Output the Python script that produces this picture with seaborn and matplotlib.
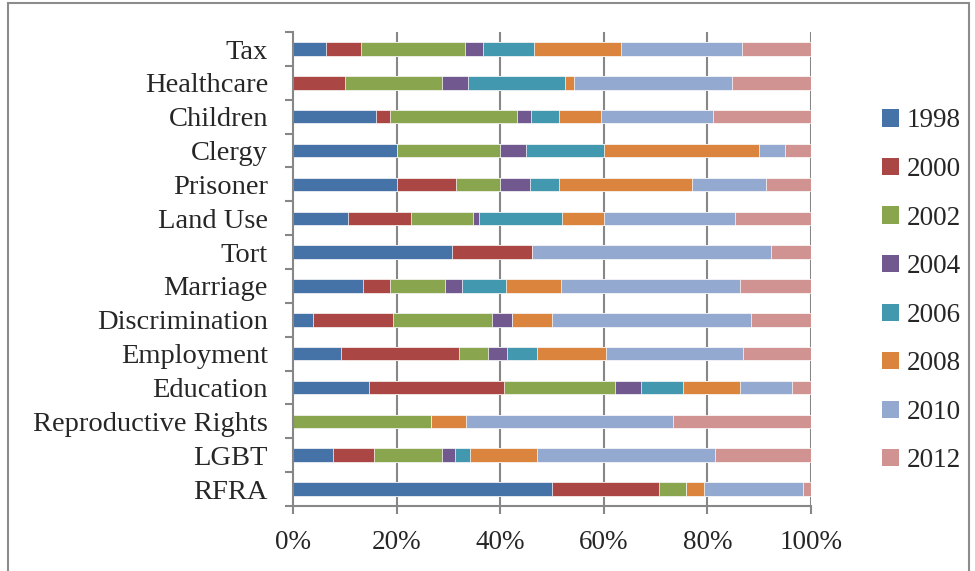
import pandas as pd
import seaborn as sns
import matplotlib.pyplot as plt
from matplotlib.patches import Rectangle, Patch

# categories, top to bottom
categories = ["Tax", "Healthcare", "Children", "Clergy", "Prisoner", "Land Use", "Tort",
              "Marriage", "Discrimination", "Employment", "Education",
              "Reproductive Rights", "LGBT", "RFRA"]
years = ["1998", "2000", "2002", "2004", "2006", "2008", "2010", "2012"]

# share of cases per year (%)
y1998 = [6.4, 0, 16.1, 20.0, 20.0, 10.7, 30.8, 13.6, 3.8, 9.3, 14.7, 0, 7.8, 50.0]
y2000 = [6.8, 10.1, 2.6, 0, 11.4, 12.0, 15.4, 5.2, 15.4, 22.7, 26.1, 0, 7.9, 20.6]
y2002 = [20.0, 18.6, 24.5, 20.0, 8.6, 12.0, 0, 10.5, 19.2, 5.7, 21.4, 26.7, 13.1, 5.3]
y2004 = [3.4, 5.1, 2.7, 5.0, 5.7, 1.3, 0, 3.3, 3.8, 3.7, 4.9, 0, 2.5, 0]
y2006 = [10.0, 18.7, 5.4, 15.0, 5.7, 16.0, 0, 8.6, 0, 5.7, 8.2, 0, 2.8, 0]
y2008 = [16.7, 1.7, 8.1, 30.0, 25.7, 8.0, 0, 10.5, 7.7, 13.3, 11.0, 6.7, 13.1, 3.4]
y2010 = [23.4, 30.5, 21.7, 5.0, 14.3, 25.3, 46.2, 34.6, 38.5, 26.5, 10.0, 40.0, 34.3, 19.1]
y2012 = [13.3, 15.3, 18.9, 5.0, 8.6, 14.7, 7.7, 13.7, 11.5, 13.1, 3.7, 26.7, 18.5, 1.6]

colors = ["#4572A7", "#AA4643", "#89A54E", "#71588F", "#4198AF", "#DB843D", "#93A9CF", "#D19392"]

df = pd.DataFrame(dict(zip(years, [y1998, y2000, y2002, y2004, y2006, y2008, y2010, y2012])),
                  index=categories)
# 100% stacked: normalise each row, then cumulative sums
df = df.div(df.sum(axis=1), axis=0)
cum = df.cumsum(axis=1)
cum["Category"] = categories

sns.set_style("white")
plt.rcParams["font.family"] = ["Liberation Serif", "DejaVu Serif"]

fig = plt.figure(figsize=(9.75, 5.71), dpi=100)
ax = fig.add_axes([0.3005, 0.1138, 0.5313, 0.830])

# gridlines behind bars
for v in [0.2, 0.4, 0.6, 0.8, 1.0]:
    ax.axvline(v, color="#878787", lw=1.5, zorder=0)

# draw from the last year backwards so shorter cumulative bars sit on top
for yr, col in reversed(list(zip(years, colors))):
    sns.barplot(data=cum, x=yr, y="Category", order=categories, color=col,
                orient="h", width=0.40, edgecolor="white", linewidth=0.5,
                saturation=1, ax=ax, zorder=2)

ax.set_xlim(0, 1)
ax.set_ylim(len(categories) - 0.5, -0.5)
ax.set_xticks([0, 0.2, 0.4, 0.6, 0.8, 1.0])
ax.set_xticklabels(["0%", "20%", "40%", "60%", "80%", "100%"])
ax.set_xlabel("")
ax.set_ylabel("")

ax.tick_params(axis="x", which="major", length=6, width=1.5, color="#878787",
               direction="out", pad=11, labelsize=19.5, bottom=True)
ax.tick_params(axis="y", which="major", length=0, pad=18, labelsize=20.5, left=True)
ax.set_yticks([i - 0.5 for i in range(len(categories) + 1)], minor=True)
ax.tick_params(axis="y", which="minor", length=6, width=1.5, color="#878787",
               direction="out", left=True)

for s in ["top", "right"]:
    ax.spines[s].set_visible(False)
for s in ["left", "bottom"]:
    ax.spines[s].set_color("#878787")
    ax.spines[s].set_linewidth(1.5)

handles = [Patch(facecolor=c, edgecolor="none") for c in colors]
fig.legend(handles, years, loc="upper left", bbox_to_anchor=(0.905, 0.81),
           frameon=False, fontsize=19.5, handlelength=0.6, handleheight=0.6,
           handletextpad=0.3, labelspacing=0.87, borderpad=0, borderaxespad=0)

# chart border
fig.patches.append(Rectangle((8 / 975, -0.05), (969 - 8) / 975, 1.05 - 3 / 571,
                             transform=fig.transFigure, fill=False,
                             edgecolor="#8c8c8c", lw=1.5))

fig.savefig("out.png", dpi=100)
plt.close(fig)
